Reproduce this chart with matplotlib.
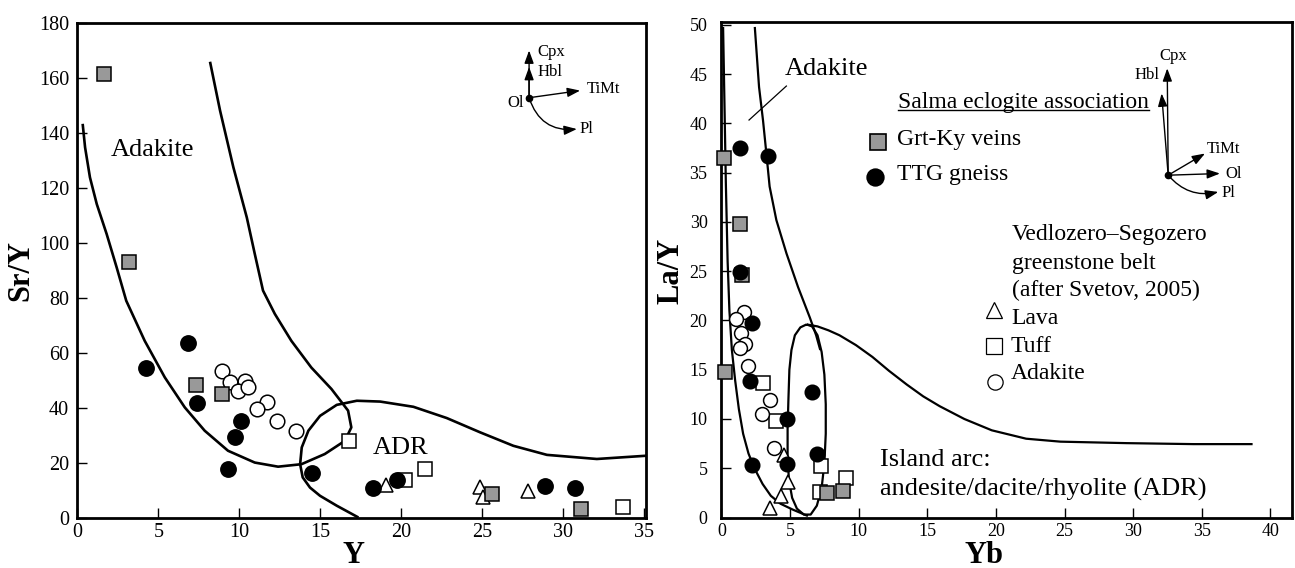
import matplotlib
matplotlib.use("Agg")
import matplotlib.pyplot as plt
from matplotlib.patches import FancyArrowPatch

plt.rcParams['font.family'] = ['Liberation Serif', 'DejaVu Serif']

# ---------------- Sr/Y versus Y ----------------
grtky_y = [1.65, 3.21, 7.35, 8.93, 25.62, 31.07]
grtky_sry = [161.5, 93.1, 48.3, 44.9, 8.7, 3.1]
ttg_y = [4.22, 6.83, 7.39, 9.30, 9.71, 10.08, 14.5, 18.23, 19.75, 28.87, 30.74]
ttg_sry = [54.6, 63.5, 41.7, 17.5, 29.4, 35.0, 16.2, 10.9, 13.7, 11.4, 10.9]
lava_y = [19.06, 24.86, 25.06, 27.84]
lava_sry = [11.9, 11.2, 7.3, 9.5]
tuff_y = [16.77, 20.23, 21.46, 33.67]
tuff_sry = [27.9, 13.7, 17.8, 4.0]
adk_y = [8.95, 9.41, 10.33, 9.92, 10.54, 11.73, 11.11, 12.35, 13.52]
adk_sry = [53.4, 49.4, 49.8, 45.9, 47.6, 42.2, 39.5, 35.0, 31.6]

# field boundaries, Sr/Y diagram
adakite_field_y = [0.33, 0.48, 0.78, 1.20, 1.81, 2.43, 3.02, 4.16, 5.40, 6.63, 7.86,
                   9.30, 10.95, 12.39, 13.83, 15.27, 16.51, 16.91, 16.71, 15.68,
                   14.44, 13.21, 12.19, 11.46, 10.95, 10.46, 9.63, 8.81, 8.19]
adakite_field_sry = [143.3, 134.7, 123.8, 114.1, 103.2, 91.0, 78.9, 64.3, 51.0, 40.1, 31.6,
                     24.3, 20.0, 18.5, 19.4, 23.1, 27.9, 32.8, 38.9, 46.8,
                     54.6, 64.3, 74.1, 82.6, 96.0, 109.2, 127.5, 148.1, 165.9]
adr_field_y = [35.15, 32.06, 28.98, 26.91, 24.86, 22.80, 20.74, 18.69, 17.25, 16.01,
               14.98, 14.26, 13.85, 13.75, 13.91, 14.36, 14.98, 16.01, 17.35]
adr_field_sry = [22.5, 21.3, 22.8, 26.1, 31.0, 36.2, 40.3, 42.2, 42.5, 41.0,
                 37.0, 31.6, 25.5, 19.4, 14.6, 10.9, 7.9, 4.3, 0.0]

# ---------------- La/Y versus Yb ----------------
grtky_yb = [0.20, 1.33, 1.50, 0.24, 7.70, 8.86]
grtky_lay = [36.5, 29.8, 24.6, 14.8, 2.5, 2.7]
ttg_yb = [1.33, 3.40, 1.33, 2.23, 2.11, 6.60, 4.74, 6.97, 2.23, 4.74]
ttg_lay = [37.5, 36.7, 24.9, 19.7, 13.9, 12.7, 10.0, 6.45, 5.36, 5.43]
lava_yb = [3.57, 4.32, 4.86, 4.53]
lava_lay = [0.95, 2.2, 3.56, 6.3]
tuff_yb = [3.03, 4.01, 7.24, 9.11, 7.17]
tuff_lay = [13.7, 9.8, 5.2, 4.0, 2.55]
adk_yb = [1.63, 1.09, 1.46, 1.70, 1.33, 1.94, 3.57, 2.99, 3.81]
adk_lay = [20.85, 20.2, 18.75, 17.6, 17.2, 15.4, 11.9, 10.5, 7.1]

# field boundaries, La/Y diagram
adk_left_yb = [0.12, 0.22, 0.32, 0.45, 0.58, 0.76, 1.00, 1.27, 1.58, 1.97, 2.40,
               3.00, 3.60, 4.30, 5.20, 6.30]
adk_left_lay = [49.8, 42.0, 34.0, 26.0, 21.0, 17.0, 13.9, 11.0, 8.5, 6.5, 5.0,
                3.4, 2.2, 1.4, 0.8, 0.15]
adk_right_yb = [2.43, 2.74, 3.03, 3.27, 3.51, 4.00, 4.74, 5.58, 6.44, 6.90, 7.20]
adk_right_lay = [49.8, 43.7, 40.3, 37.0, 33.6, 30.2, 26.8, 23.4, 20.3, 18.5, 17.0]
loop_yb = [6.20, 5.75, 5.35, 5.10, 4.95, 4.88, 4.82, 4.82, 4.92, 5.15, 5.50, 6.00,
           6.50, 6.95, 7.30, 7.50, 7.60, 7.60, 7.50, 7.30, 7.00, 6.60, 6.20]
loop_lay = [19.6, 19.3, 18.5, 17.0, 15.0, 12.0, 9.0, 6.0, 3.8, 2.0, 0.9, 0.3,
            0.3, 1.2, 3.0, 5.5, 8.5, 11.5, 14.5, 16.8, 18.5, 19.4, 19.6]
arc_yb = [6.2, 7.0, 7.8, 8.6, 9.8, 11.0, 12.2, 13.5, 14.7, 15.9, 17.7, 19.7,
          22.2, 24.7, 29.5, 34.4, 38.7]
arc_lay = [19.6, 19.4, 19.0, 18.5, 17.5, 16.3, 14.9, 13.5, 12.3, 11.3, 10.0, 8.85,
           8.0, 7.7, 7.55, 7.45, 7.45]

GRAY = '#999999'
EDGE = 1.1


def field(ax, x, y, lw):
    ax.plot(x, y, color='black', lw=lw, solid_capstyle='butt',
            solid_joinstyle='round', zorder=2)


def symbols(ax, scale, lava, tuff, adk, grt, ttg):
    kw = dict(ls='none', clip_on=False, mec='black', mew=EDGE)
    ax.plot(*lava, marker='^', ms=10 * scale, mfc='white', zorder=3, **kw)
    ax.plot(*tuff, marker='s', ms=10 * scale, mfc='white', zorder=3, **kw)
    ax.plot(*adk, marker='o', ms=10.5 * scale, mfc='white', zorder=3, **kw)
    ax.plot(*grt, marker='s', ms=10.5 * scale, mfc=GRAY, zorder=4, **kw)
    ax.plot(*ttg, marker='o', ms=11 * scale, mfc='black', zorder=5, **kw)


def arrow(ax, start, end, rad=0.0):
    ax.add_patch(FancyArrowPatch(start, end,
                                 arrowstyle='-|>,head_length=0.55,head_width=0.2',
                                 mutation_scale=14, lw=1.0, color='black',
                                 shrinkA=0, shrinkB=0,
                                 connectionstyle=f'arc3,rad={rad}', zorder=6))


def frame(ax, xlim, ylim, xticks, yticks, fs, ylpad):
    ax.set_xlim(*xlim)
    ax.set_ylim(*ylim)
    ax.set_xticks(xticks)
    ax.set_yticks(yticks)
    ax.tick_params(direction='in', length=7, width=1.0, labelsize=fs,
                   top=False, right=False)
    ax.tick_params(axis='x', pad=4)
    ax.tick_params(axis='y', pad=ylpad)
    for sp in ax.spines.values():
        sp.set_linewidth(2.0)


fig = plt.figure(figsize=(12.95, 5.68), dpi=100)
ax1 = fig.add_axes([0.0597, 0.0889, 0.4392, 0.8706])
ax2 = fig.add_axes([0.5571, 0.0889, 0.4409, 0.8732])

# ---------- left panel ----------
frame(ax1, (0, 35.1), (0, 180), range(0, 36, 5), range(0, 181, 20), 14.5, 6)
field(ax1, adakite_field_y, adakite_field_sry, 1.9)
field(ax1, adr_field_y, adr_field_sry, 1.9)
symbols(ax1, 1.0, (lava_y, lava_sry), (tuff_y, tuff_sry), (adk_y, adk_sry),
        (grtky_y, grtky_sry), (ttg_y, ttg_sry))

ax1.text(2.08, 131.7, 'Adakite', fontsize=19, ha='left', va='baseline')
ax1.text(18.23, 23.1, 'ADR', fontsize=19, ha='left', va='baseline')

# fractionation vectors
o1 = (27.88, 152.8)
ax1.plot(*o1, marker='o', ms=4.5, color='black', zorder=6)
arrow(ax1, o1, (27.88, 170.0))
arrow(ax1, o1, (27.88, 164.0))
arrow(ax1, o1, (31.03, 155.4))
arrow(ax1, o1, (30.83, 141.4), rad=0.4)
afs = 12
ax1.text(28.4, 169.5, 'Cpx', fontsize=afs, ha='left', va='center')
ax1.text(28.4, 162.0, 'Hbl', fontsize=afs, ha='left', va='center')
ax1.text(31.45, 155.8, 'TiMt', fontsize=afs, ha='left', va='center')
ax1.text(27.55, 150.9, 'Ol', fontsize=afs, ha='right', va='center')
ax1.text(31.0, 141.5, 'Pl', fontsize=afs, ha='left', va='center')

ax1.set_xlabel('Y', fontsize=22, fontweight='bold', va='baseline', ha='center')
ax1.xaxis.set_label_coords(0.486, -0.091)
ax1.set_ylabel('Sr/Y', fontsize=22, fontweight='bold', va='center', ha='center')
ax1.yaxis.set_label_coords(-0.099, 0.4985)

# ---------- right panel ----------
frame(ax2, (0, 41.6), (0, 50.35), range(0, 41, 5), range(0, 51, 5), 13, 10)
field(ax2, adk_left_yb, adk_left_lay, 1.6)
field(ax2, adk_right_yb, adk_right_lay, 1.6)
field(ax2, loop_yb, loop_lay, 1.6)
field(ax2, arc_yb, arc_lay, 1.6)
symbols(ax2, 0.95, (lava_yb, lava_lay), (tuff_yb, tuff_lay), (adk_yb, adk_lay),
        (grtky_yb, grtky_lay), (ttg_yb, ttg_lay))

ax2.text(4.61, 44.9, 'Adakite', fontsize=19, ha='left', va='baseline')
ax2.plot([2.01, 4.73], [40.35, 43.8], color='black', lw=0.9)
ax2.text(11.54, 5.26, 'Island arc:', fontsize=19, ha='left', va='baseline')
ax2.text(11.54, 2.2, 'andesite/dacite/rhyolite (ADR)', fontsize=19,
         ha='left', va='baseline')

o2 = (32.55, 34.75)
ax2.plot(*o2, marker='o', ms=4.5, color='black', zorder=6)
arrow(ax2, o2, (32.48, 45.6))
arrow(ax2, o2, (32.07, 43.05))
arrow(ax2, o2, (35.23, 36.95))
arrow(ax2, o2, (36.32, 34.92))
arrow(ax2, o2, (36.2, 33.05), rad=0.3)
ax2.text(32.95, 46.87, 'Cpx', fontsize=afs, ha='center', va='center')
ax2.text(31.95, 44.9, 'Hbl', fontsize=afs, ha='right', va='center')
ax2.text(35.35, 37.46, 'TiMt', fontsize=afs, ha='left', va='center')
ax2.text(36.68, 34.92, 'Ol', fontsize=afs, ha='left', va='center')
ax2.text(36.44, 32.97, 'Pl', fontsize=afs, ha='left', va='center')

# legend
T = ax2.transAxes
lfs = 17
head = ax2.text(0.309, 0.8266, 'Salma eclogite association', fontsize=lfs,
                ha='left', va='baseline', transform=T)
lkw = dict(ls='none', transform=T, clip_on=False, mec='black')
ax2.plot(0.274, 0.758, marker='s', ms=12, mfc=GRAY, mew=1.2, **lkw)
ax2.text(0.307, 0.751, 'Grt-Ky veins', fontsize=lfs, ha='left', va='baseline', transform=T)
ax2.plot(0.269, 0.687, marker='o', ms=12, mfc='black', mew=1.2, **lkw)
ax2.text(0.307, 0.680, 'TTG gneiss', fontsize=lfs, ha='left', va='baseline', transform=T)
for txt, yy in [('Vedlozero\u2013Segozero', 0.5595), ('greenstone belt', 0.501),
                ('(after Svetov, 2005)', 0.4456)]:
    ax2.text(0.509, yy, txt, fontsize=lfs, ha='left', va='baseline', transform=T)
ax2.plot(0.478, 0.419, marker='^', ms=11, mfc='white', mew=0.9, **lkw)
ax2.text(0.507, 0.3895, 'Lava', fontsize=lfs, ha='left', va='baseline', transform=T)
ax2.plot(0.478, 0.345, marker='s', ms=11, mfc='white', mew=0.9, **lkw)
ax2.text(0.507, 0.3343, 'Tuff', fontsize=lfs, ha='left', va='baseline', transform=T)
ax2.plot(0.4795, 0.273, marker='o', ms=11, mfc='white', mew=0.9, **lkw)
ax2.text(0.507, 0.2786, 'Adakite', fontsize=lfs, ha='left', va='baseline', transform=T)

ax2.set_xlabel('Yb', fontsize=22, fontweight='bold', va='baseline', ha='center')
ax2.xaxis.set_label_coords(0.46, -0.091)
ax2.set_ylabel('La/Y', fontsize=22, fontweight='bold', va='center', ha='center')
ax2.yaxis.set_label_coords(-0.0884, 0.497)

# underline the legend heading to the width of its text
fig.canvas.draw()
bb = head.get_window_extent().transformed(T.inverted())
ax2.plot([bb.x0, bb.x1], [0.8216, 0.8216], color='black', lw=1.0,
         transform=T, clip_on=False)

fig.savefig('out.png', dpi=100)
